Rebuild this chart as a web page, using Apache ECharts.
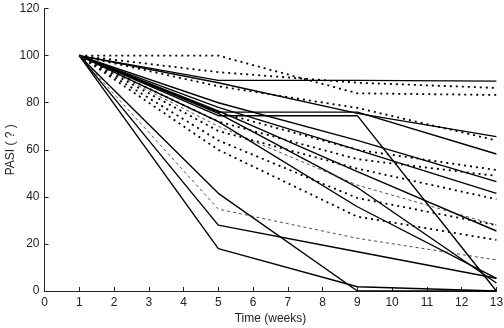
<!DOCTYPE html>
<html>
<head>
<meta charset="utf-8">
<script src="https://cdn.jsdelivr.net/npm/echarts@6/dist/echarts.min.js"></script>
<style>
  html, body { margin: 0; padding: 0; background: #fff; }
  #chart { width: 504px; height: 328px; }
</style>
</head>
<body>
<div id="chart"></div>
<script>
// visit weeks
var weeks = [1, 5, 9, 13];

// PASI per patient, solid lines
var solidLines = [
  [100, 89.5, 89.5, 89.2],
  [100, 88.5, 75.5, 65.6],
  [100, 76, 76, 58.2],
  [100, 74.5, 74.5, 0],
  [100, 80, 64, 46.5],
  [100, 78, 60, 41.5],
  [100, 76.5, 50.7, 25.5],
  [100, 75.5, 44, 3.4],
  [100, 72, 35.8, 5.4],
  [100, 41.5, 0, 0],
  [100, 28, 16.7, 5.4],
  [100, 18, 1.8, 0]
];

// PASI per patient, dotted lines
var dottedLines = [
  [100, 100, 84, 83.3],
  [100, 93, 88.5, 86.3],
  [100, 87, 77.8, 64],
  [100, 76, 60, 51.4],
  [100, 72, 56, 48.9],
  [100, 68, 52, 39],
  [100, 64, 39.5, 28],
  [100, 60, 31.6, 21.7]
];

// thin dashed lines
var dashedLines = [
  [100, 34.8, 22.4, 13.2],
  [100, 70, 45, 28]
];

var yTicks = [0, 20, 40, 60, 80, 100, 120];

var myChart = echarts.init(document.getElementById('chart'));

function toPoints(vals) {
  return vals.map(function (v, i) { return [weeks[i], v]; });
}

var series = [];
solidLines.forEach(function (vals) {
  series.push({
    type: 'line', data: toPoints(vals), symbol: 'none', silent: true,
    lineStyle: { color: '#000', width: 1.4, type: 'solid' }
  });
});
dottedLines.forEach(function (vals) {
  series.push({
    type: 'line', data: toPoints(vals), symbol: 'none', silent: true,
    lineStyle: { color: '#000', width: 1.8, type: [2, 4] }
  });
});
dashedLines.forEach(function (vals) {
  series.push({
    type: 'line', data: toPoints(vals), symbol: 'none', silent: true,
    lineStyle: { color: '#222', width: 0.8, type: [3, 3] }
  });
});

var axisFont = { fontFamily: 'Liberation Sans', fontSize: 12, color: '#222' };

myChart.setOption({
  animation: false,
  backgroundColor: '#fff',
  grid: { left: 44.5, right: 7.6, top: 8.6, bottom: 37, containLabel: false, outerBoundsMode: 'none' },
  xAxis: {
    type: 'value', min: 0, max: 13, interval: 1,
    name: 'Time (weeks)', nameLocation: 'middle', nameGap: 22, nameMoveOverlap: false,
    nameTextStyle: axisFont,
    axisLine: { lineStyle: { color: '#222', width: 1 } },
    axisTick: { inside: true, length: 4, lineStyle: { color: '#222' } },
    axisLabel: Object.assign({ margin: 6 }, axisFont),
    splitLine: { show: false }
  },
  yAxis: {
    type: 'value', min: yTicks[0], max: yTicks[yTicks.length - 1], interval: 20,
    name: 'PASI ( ? )', nameLocation: 'middle', nameGap: 28, nameMoveOverlap: false,
    nameTextStyle: axisFont,
    axisLine: { show: true, lineStyle: { color: '#222', width: 1 } },
    axisTick: { show: true, inside: true, length: 4, lineStyle: { color: '#222' } },
    axisLabel: Object.assign({ margin: 5 }, axisFont),
    splitLine: { show: false }
  },
  series: series
});
</script>
</body>
</html>
